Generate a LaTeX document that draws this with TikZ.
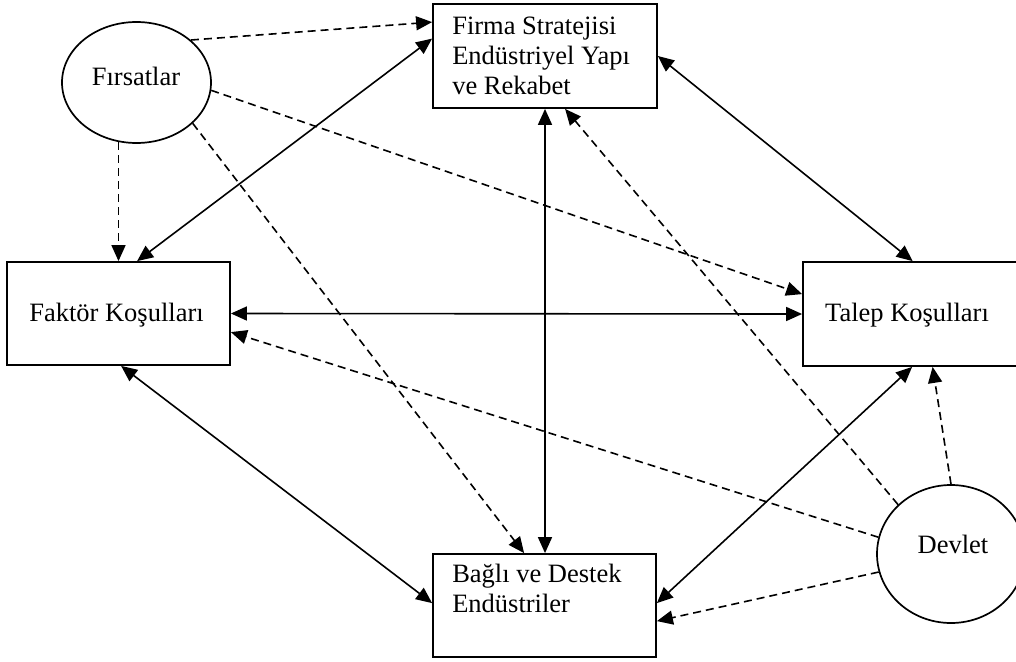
\documentclass[tikz,border=0pt]{standalone}
\usepackage{fontspec}
\setmainfont{Liberation Serif}
\usetikzlibrary{arrows.meta,shapes.geometric}
\begin{document}
\begin{tikzpicture}[x=1pt,y=-1pt,
  box/.style={draw, line width=1.8pt, rectangle, inner sep=0pt},
  oval/.style={draw, line width=1.7pt, ellipse, inner sep=0pt},
  lbl/.style={font=\fontsize{26.5}{30}\selectfont, inner sep=0pt},
  dep/.style={line width=1.6pt, dash pattern=on 8pt off 5pt, -{Triangle[length=16pt,width=14pt]}},
  mut/.style={line width=1.6pt, {Triangle[length=16pt,width=14pt]}-{Triangle[length=16pt,width=14pt]}},
]
\useasboundingbox (0,0) rectangle (1016,661);
\clip (0,0) rectangle (1016,661);

% boxes
\node[box, minimum width=224pt, minimum height=104pt] (firma) at (545,56) {};
\node[box, minimum width=223pt, minimum height=103pt] (faktor) at (118.5,313.5) {};
\node[box, minimum width=219pt, minimum height=104pt] (talep) at (912.5,314) {};
\node[box, minimum width=223pt, minimum height=103pt] (bagli) at (544.5,605.5) {};
\node[oval, minimum width=149pt, minimum height=121pt] (firsat) at (136.5,82.5) {};
\node[oval, minimum width=148pt, minimum height=138pt] (devlet) at (951,554) {};

% texts
\node[lbl, anchor=north west, align=left] (firma-t) at ([xshift=20pt,yshift=-10pt]firma.north west)
  {\strut Firma Stratejisi\\\strut Endüstriyel Yapı\\\strut ve Rekabet};
\node[lbl, anchor=north west, align=left] (bagli-t) at ([xshift=20pt,yshift=-8pt]bagli.north west)
  {\strut Bağlı ve Destek\\\strut Endüstriler};
\node[lbl, anchor=base] (faktor-t) at ([xshift=-2pt,yshift=-8pt]faktor.center) {Faktör Koşulları};
\node[lbl, anchor=base] (talep-t) at ([xshift=-5.5pt,yshift=-7.7pt]talep.center) {Talep Koşulları};
\node[lbl, anchor=base] (firsat-t) at ([xshift=-0.5pt,yshift=-2.5pt]firsat.center) {Fırsatlar};
\node[lbl, anchor=base] (devlet-t) at ([xshift=2pt,yshift=1pt]devlet.center) {Devlet};

% dashed influences from Fırsatlar
\draw[dep] (firsat.38) -- ([yshift=-19pt]firma.north west);
\draw[dep] (firsat.-6) -- ([yshift=-33pt]talep.north west);
\draw[dep] (firsat.-36) -- ([xshift=92pt]bagli.north west);
\draw[dep] (firsat.-107 -| faktor.north) -- (faktor.north);

% dashed influences from Devlet
\draw[dep] (devlet.137) -- ([xshift=133pt]firma.south west);
\draw[dep] (devlet.167) -- ([yshift=-71pt]faktor.north east);
\draw[dep] (devlet.-166) -- ([yshift=-68pt]bagli.north east);
\draw[dep] (devlet.north) -- ([xshift=130.5pt]talep.south west);

% mutual relations
\draw[mut] ([xshift=131pt]faktor.north west) -- ([yshift=-35.5pt]firma.north west);
\draw[mut] (firma.east) -- ([xshift=110.5pt]talep.north west);
\draw[mut] (firma.south) -- (firma.south |- bagli.north);
\draw[mut] (faktor.east) -- (talep.west);
\draw[mut] ([xshift=115pt]faktor.south west) -- ([yshift=-50pt]bagli.north west);
\draw[mut] ([xshift=110pt]talep.south west) -- ([yshift=-50pt]bagli.north east);
\end{tikzpicture}
\end{document}
